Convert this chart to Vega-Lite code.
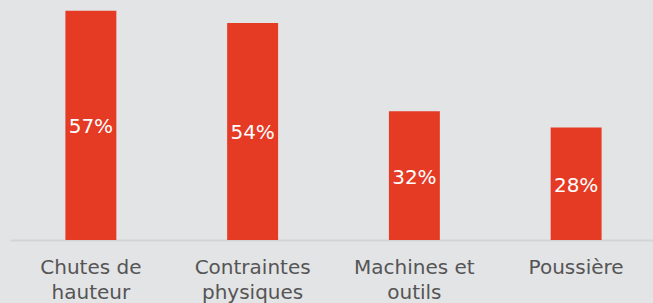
{
  "$schema": "https://vega.github.io/schema/vega-lite/v6.json",
  "autosize": "none",
  "width": 647,
  "height": 240,
  "padding": {"left": 10, "top": 0, "right": 0, "bottom": 63},
  "background": "#E3E4E6",
  "config": {"view": {"stroke": null}},
  "data": {"values": [
    {"cat": "Chutes de\nhauteur", "v": 0.57},
    {"cat": "Contraintes\nphysiques", "v": 0.54},
    {"cat": "Machines et\noutils", "v": 0.32},
    {"cat": "Poussière", "v": 0.28}
  ]},
  "encoding": {
    "x": {"field": "cat", "type": "nominal", "sort": null,
      "scale": {"paddingInner": 0.685, "paddingOuter": 0.3425},
      "axis": {"title": null, "labelAngle": 0, "ticks": false, "labelPadding": 17,
        "labelExpr": "split(datum.label, '\\n')", "labelLineHeight": 25,
        "labelFont": "DejaVu Sans", "labelFontSize": 20, "labelColor": "#555555",
        "domainColor": "#D2D3D5", "domainWidth": 2, "grid": false}}
  },
  "layer": [
    {"mark": {"type": "bar", "color": "#E53A24"},
     "encoding": {"y": {"field": "v", "type": "quantitative", "scale": {"domain": [0, 0.597]}, "axis": null}}},
    {"mark": {"type": "text", "color": "white", "font": "DejaVu Sans", "fontSize": 20, "baseline": "middle", "dy": 2},
     "encoding": {"y": {"field": "v", "type": "quantitative", "scale": {"domain": [0, 1.194]}, "axis": null},
       "text": {"field": "v", "type": "quantitative", "format": ".0%"}}}
  ],
  "resolve": {"scale": {"y": "independent"}}
}
